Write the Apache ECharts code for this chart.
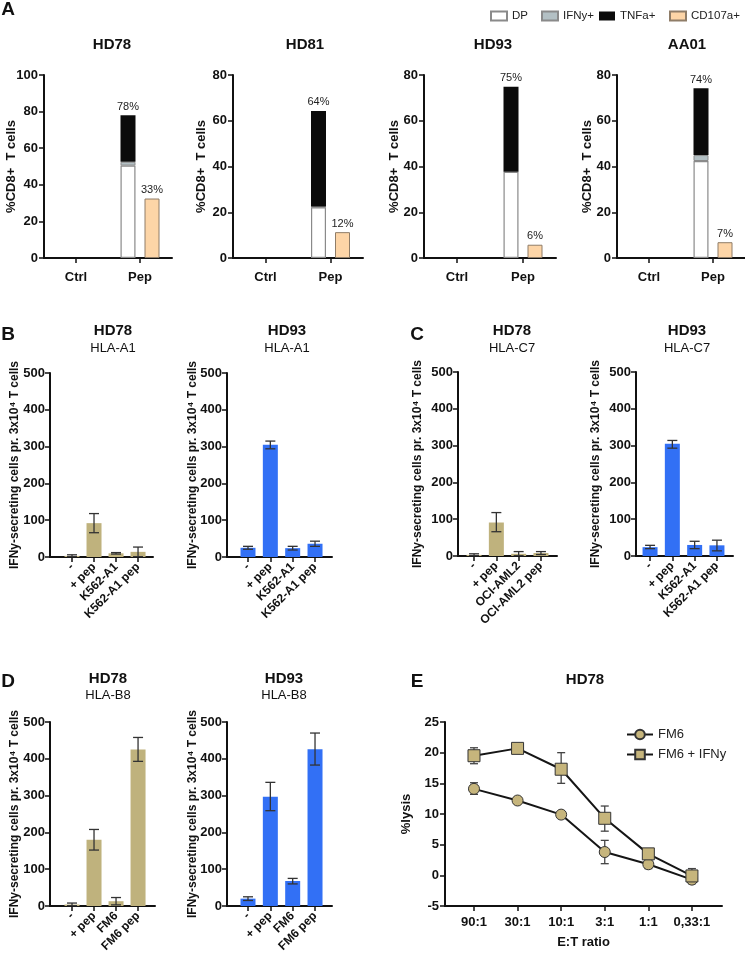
<!DOCTYPE html>
<html>
<head>
<meta charset="utf-8">
<script src="https://cdn.jsdelivr.net/npm/echarts@6/dist/echarts.min.js"></script>
<style>
  html, body { margin: 0; padding: 0; background: #fff; }
  #main { width: 745px; height: 961px; }
</style>
</head>
<body>
<div id="main"></div>
<script>
// ---------- data ----------
// panel A: cytokine profile, stacked (DP / IFNy+ / TNFa+) + CD107a+
const donorsA = ['HD78', 'HD81', 'HD93', 'AA01'];
const groupsA = ['Ctrl', 'Pep'];
const dpA     = [[0, 50.5], [0, 22.2], [0, 37.7], [0, 42.4]];
const ifnyA   = [[0, 2.1],  [0, 0.3],  [0, 0],    [0, 2.6]];
const tnfaA   = [[0, 25.4], [0, 41.8], [0, 37.2], [0, 29.2]];
const cd107aA = [[0, 32.5], [0, 11.3], [0, 5.8],  [0, 6.9]];
const totalTxtA = ['78%', '64%', '75%', '74%'];
const cdTxtA    = ['33%', '12%', '6%', '7%'];

// panels B-D: IFNy ELISpot, mean and [low, high] of error bar
const condB   = ['-', '+ pep', 'K562-A1', 'K562-A1 pep'];
const condC78 = ['-', '+ pep', 'OCI-AML2', 'OCI-AML2 pep'];
const condD   = ['-', '+ pep', 'FM6', 'FM6 pep'];

const meanB78 = [3, 92, 10, 14];
const errB78  = [[1, 6], [66, 118], [8, 12], [1, 27]];
const meanB93 = [25, 305, 24, 36];
const errB93  = [[21, 29], [294, 315], [19, 29], [29, 43]];
const meanC78 = [3, 91, 6, 8];
const errC78  = [[1, 6], [66, 118], [1, 12], [4, 12]];
const meanC93 = [24, 305, 30, 29];
const errC93  = [[20, 29], [293, 314], [20, 40], [14, 43]];
const meanD78 = [4, 180, 13, 425];
const errD78  = [[1, 8], [152, 208], [3, 23], [393, 458]];
const meanD93 = [20, 297, 68, 426];
const errD93  = [[15, 25], [259, 336], [60, 75], [383, 470]];

// panel E: lysis
const ratiosE   = ['90:1', '30:1', '10:1', '3:1', '1:1', '0,33:1'];
const fm6       = [14.1, 12.2, 9.9, 3.8, 1.8, -0.7];
const fm6Err    = [[13.2, 15.1], [12.2, 12.2], [9.9, 9.9], [1.9, 5.7], [1.1, 2.6], [-1.2, -0.2]];
const fm6Ifn    = [19.5, 20.7, 17.3, 9.3, 3.5, -0.1];
const fm6IfnErr = [[18.2, 20.8], [20.7, 20.7], [15.0, 20.0], [7.2, 11.3], [3.2, 4.0], [-1.35, 1.1]];

// ---------- layout ----------
const FF = '"Liberation Sans", Arial, Helvetica, sans-serif';
const TAN = '#bfb27d';
const BLUE = '#3270f5';

const layA = [
  { l: 44,  w: 128, ymax: 100, gap: 26 },
  { l: 233, w: 130, ymax: 80,  gap: 25 },
  { l: 424, w: 132, ymax: 80,  gap: 23 },
  { l: 617, w: 130, ymax: 80,  gap: 23 }
];
const layBars = [
  { l: 50,  t: 373, w: 103, min: 0,    max: 4.68, gap: 29, cats: condB,   mean: meanB78, err: errB78, color: TAN },
  { l: 227, t: 373, w: 105, min: 0.06, max: 4.76, gap: 28, cats: condB,   mean: meanB93, err: errB93, color: BLUE },
  { l: 458, t: 372, w: 99,  min: 0.28, max: 4.72, gap: 34, cats: condC78, mean: meanC78, err: errC78, color: TAN },
  { l: 636, t: 372, w: 97,  min: 0.37, max: 4.72, gap: 34, cats: condB,   mean: meanC93, err: errC93, color: BLUE },
  { l: 50,  t: 722, w: 105, min: 0,    max: 4.77, gap: 29, cats: condD,   mean: meanD78, err: errD78, color: TAN },
  { l: 227, t: 722, w: 105, min: 0.06, max: 4.76, gap: 28, cats: condD,   mean: meanD93, err: errD93, color: BLUE }
];

const axisLine = { show: true, onZero: false, lineStyle: { color: '#111', width: 2 } };
const axisTick = { show: true, length: 5, lineStyle: { color: '#111', width: 1.5 } };
const tickFont = { color: '#111', fontFamily: FF, fontWeight: 'bold', fontSize: 13 };

const grid = [], xAxis = [], yAxis = [], series = [];

// zero-height bars get no outline, so Ctrl shows nothing
function barItems(vals) {
  return vals.map(function (v) {
    return v === 0 ? { value: 0, itemStyle: { borderWidth: 0, opacity: 0 } } : v;
  });
}

function errorBars(idx, data, hw, color) {
  return {
    type: 'custom', xAxisIndex: idx, yAxisIndex: idx, z: 5, silent: true,
    encode: { x: 0, y: [1, 2] },
    data: data,
    renderItem: function (params, api) {
      const x = api.value(0);
      const lo = api.coord([x, api.value(1)]);
      const hi = api.coord([x, api.value(2)]);
      const st = { stroke: color, lineWidth: 1.3 };
      return {
        type: 'group',
        children: [
          { type: 'line', shape: { x1: hi[0], y1: hi[1], x2: lo[0], y2: lo[1] }, style: st },
          { type: 'line', shape: { x1: hi[0] - hw, y1: hi[1], x2: hi[0] + hw, y2: hi[1] }, style: st },
          { type: 'line', shape: { x1: lo[0] - hw, y1: lo[1], x2: lo[0] + hw, y2: lo[1] }, style: st }
        ]
      };
    }
  };
}

// panel A
layA.forEach(function (g, i) {
  grid.push({ left: g.l, top: 75, width: g.w, height: 183 });
  xAxis.push({
    type: 'category', gridIndex: i, data: groupsA,
    axisLine: axisLine, splitLine: { show: false },
    axisTick: Object.assign({ alignWithLabel: true }, axisTick),
    axisLabel: Object.assign({ margin: 13 }, tickFont)
  });
  yAxis.push({
    type: 'value', gridIndex: i, min: 0, max: g.ymax, interval: 20,
    axisLine: axisLine, axisTick: axisTick, splitLine: { show: false },
    axisLabel: Object.assign({ margin: 6 }, tickFont),
    name: '%CD8+  T cells', nameLocation: 'middle', nameGap: g.gap, nameMoveOverlap: false,
    nameTextStyle: { color: '#111', fontFamily: FF, fontWeight: 'bold', fontSize: 13 }
  });
  const base = { type: 'bar', xAxisIndex: i, yAxisIndex: i, barWidth: 15, barGap: '60%' };
  series.push(Object.assign({}, base, {
    name: 'DP', stack: 'cyt' + i,
    itemStyle: { color: '#ffffff', borderColor: '#8a8a8a', borderWidth: 1.2 },
    data: barItems(dpA[i])
  }));
  series.push(Object.assign({}, base, {
    name: 'IFNy+', stack: 'cyt' + i,
    itemStyle: { color: '#b3c0c4', borderColor: '#8a8a8a', borderWidth: 1 },
    data: barItems(ifnyA[i])
  }));
  series.push(Object.assign({}, base, {
    name: 'TNFa+', stack: 'cyt' + i,
    itemStyle: { color: '#0b0b0b' },
    label: { show: true, position: 'top', distance: 3, color: '#222', fontFamily: FF, fontSize: 11,
      formatter: function (p) { return p.dataIndex === 1 ? totalTxtA[i] : ''; } },
    data: barItems(tnfaA[i])
  }));
  series.push(Object.assign({}, base, {
    name: 'CD107a+', stack: 'cd' + i,
    itemStyle: { color: '#fdd5a7', borderColor: '#8f7d68', borderWidth: 1 },
    label: { show: true, position: 'top', distance: 3, color: '#222', fontFamily: FF, fontSize: 11,
      formatter: function (p) { return p.dataIndex === 1 ? cdTxtA[i] : ''; } },
    data: barItems(cd107aA[i])
  }));
});

// panels B, C, D
layBars.forEach(function (g, j) {
  const i = layA.length + j;
  const cats = g.cats;
  grid.push({ left: g.l, top: g.t, width: g.w, height: 184 });
  xAxis.push({
    type: 'value', gridIndex: i, min: g.min, max: g.max,
    axisLine: axisLine, splitLine: { show: false },
    axisTick: Object.assign({ customValues: [1, 2, 3, 4] }, axisTick),
    axisLabel: Object.assign({ customValues: [1, 2, 3, 4], rotate: 45, margin: 8,
      formatter: function (v) { return cats[Math.round(v) - 1] || ''; } }, tickFont, { fontSize: 12 })
  });
  yAxis.push({
    type: 'value', gridIndex: i, min: 0, max: 500, interval: 100,
    axisLine: axisLine, axisTick: axisTick, splitLine: { show: false },
    axisLabel: Object.assign({ margin: 5 }, tickFont),
    name: 'IFNy-secreting cells pr. 3x10\u2074 T cells', nameLocation: 'middle',
    nameGap: g.gap, nameMoveOverlap: false,
    nameTextStyle: { color: '#111', fontFamily: FF, fontWeight: 'bold', fontSize: 12 }
  });
  series.push({
    type: 'bar', xAxisIndex: i, yAxisIndex: i, barWidth: 15,
    itemStyle: { color: g.color },
    data: g.mean.map(function (v, k) { return [k + 1, v]; })
  });
  series.push(errorBars(i, g.err.map(function (e, k) { return [k + 1, e[0], e[1]]; }), 5, '#333'));
});

// panel E
const iE = grid.length;
grid.push({ left: 445, top: 722, width: 277, height: 184 });
xAxis.push({
  type: 'value', gridIndex: iE, min: -0.665, max: 5.69,
  axisLine: axisLine, splitLine: { show: false },
  axisTick: Object.assign({ customValues: [0, 1, 2, 3, 4, 5] }, axisTick),
  axisLabel: Object.assign({ customValues: [0, 1, 2, 3, 4, 5], margin: 10,
    formatter: function (v) { return ratiosE[Math.round(v)] || ''; } }, tickFont),
  name: 'E:T ratio', nameLocation: 'middle', nameGap: 30, nameMoveOverlap: false,
  nameTextStyle: { color: '#111', fontFamily: FF, fontWeight: 'bold', fontSize: 13 }
});
yAxis.push({
  type: 'value', gridIndex: iE, min: -5, max: 25, interval: 5,
  axisLine: axisLine, axisTick: axisTick, splitLine: { show: false },
  axisLabel: Object.assign({ margin: 6 }, tickFont),
  name: '%lysis', nameLocation: 'middle', nameGap: 32, nameMoveOverlap: false,
  nameTextStyle: { color: '#111', fontFamily: FF, fontWeight: 'bold', fontSize: 13 }
});
series.push(errorBars(iE, fm6Err.map(function (e, k) { return [k, e[0], e[1]]; }), 4, '#444'));
series.push(errorBars(iE, fm6IfnErr.map(function (e, k) { return [k, e[0], e[1]]; }), 4, '#444'));
series.push({
  type: 'line', name: 'FM6', xAxisIndex: iE, yAxisIndex: iE, z: 6,
  symbol: 'circle', symbolSize: 11,
  lineStyle: { color: '#151515', width: 2 },
  itemStyle: { color: '#c6b57c', borderColor: '#333', borderWidth: 1 },
  data: fm6.map(function (v, k) { return [k, v]; })
});
series.push({
  type: 'line', name: 'FM6 + IFNy', xAxisIndex: iE, yAxisIndex: iE, z: 6,
  symbol: 'rect', symbolSize: 12,
  lineStyle: { color: '#151515', width: 2 },
  itemStyle: { color: '#c6b57c', borderColor: '#333', borderWidth: 1 },
  data: fm6Ifn.map(function (v, k) { return [k, v]; })
});

// titles and panel letters
const texts = [];
function txt(x, y, s, size, bold) {
  texts.push({
    type: 'text', x: x, y: y, silent: true,
    style: { text: s, fill: '#111', font: (bold ? 'bold ' : '') + size + 'px ' + FF,
      textAlign: 'center', textVerticalAlign: 'middle' }
  });
}
txt(8, 10, 'A', 19, true);
txt(8, 335, 'B', 19, true);
txt(417, 335, 'C', 19, true);
txt(8, 682, 'D', 19, true);
txt(417, 682, 'E', 19, true);
[112, 305, 493, 687].forEach(function (x, k) { txt(x, 45, donorsA[k], 15, true); });
[[113, 'HD78', 'HLA-A1'], [287, 'HD93', 'HLA-A1'], [512, 'HD78', 'HLA-C7'], [687, 'HD93', 'HLA-C7']]
  .forEach(function (t) { txt(t[0], 331, t[1], 15, true); txt(t[0], 348, t[2], 13, false); });
[[108, 'HD78', 'HLA-B8'], [284, 'HD93', 'HLA-B8']]
  .forEach(function (t) { txt(t[0], 679, t[1], 15, true); txt(t[0], 695, t[2], 13, false); });
txt(585, 680, 'HD78', 15, true);

const legText = { color: '#222', fontFamily: FF, fontSize: 11.5 };
function legA(name, left) {
  return { data: [name], left: left, top: 10, itemWidth: 16, itemHeight: 9, itemGap: 4,
    icon: 'rect', textStyle: legText, selectedMode: false, padding: 0 };
}

const chart = echarts.init(document.getElementById('main'), null, { renderer: 'canvas' });
chart.setOption({
  animation: false,
  backgroundColor: '#fff',
  textStyle: { fontFamily: FF },
  grid: grid,
  xAxis: xAxis,
  yAxis: yAxis,
  legend: [
    legA('DP', 490), legA('IFNy+', 541), legA('TNFa+', 599), legA('CD107a+', 669),
    { data: ['FM6', 'FM6 + IFNy'], orient: 'vertical', left: 626, top: 728, padding: 0,
      itemWidth: 26, itemHeight: 12, itemGap: 7, selectedMode: false,
      textStyle: { color: '#222', fontFamily: FF, fontSize: 13 } }
  ],
  graphic: texts,
  series: series
});
</script>
</body>
</html>
